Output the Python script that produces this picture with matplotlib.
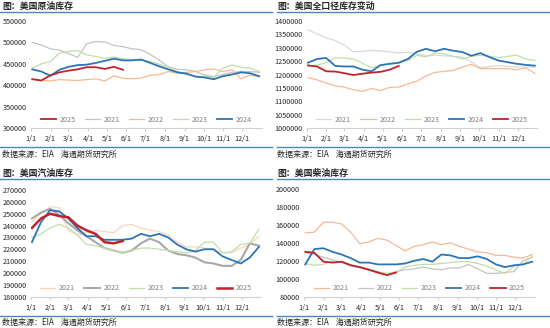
import numpy as np
import matplotlib.pyplot as plt
from matplotlib.lines import Line2D

plt.rcParams['font.family'] = ['Noto Sans CJK SC', 'DejaVu Sans']

# sample days (approx. every two weeks through the year)
days = np.linspace(2, 361, 26)
month_days = [0, 31, 59, 90, 120, 151, 181, 212, 243, 273, 304, 334]
month_labels = ['1/1', '2/1', '3/1', '4/1', '5/1', '6/1', '7/1', '8/1', '9/1', '10/1', '11/1', '12/1']

# 美国原油库存 (千桶)
crude_2021 = [500, 494, 485, 482, 474, 465, 497, 502, 501, 493, 490, 485, 483, 472, 458, 443, 437, 436, 432, 424, 420, 425, 430, 432, 432, 430]
crude_2022 = [414, 411, 410, 413, 412, 411, 413, 415, 410, 422, 416, 415, 417, 423, 425, 432, 428, 430, 432, 436, 438, 432, 436, 415, 424, 420]
crude_2023 = [440, 450, 455, 475, 479, 481, 471, 467, 463, 466, 462, 460, 458, 456, 449, 442, 432, 425, 420, 421, 418, 440, 447, 442, 440, 432]
crude_2024 = [437, 432, 422, 436, 443, 447, 448, 452, 457, 462, 458, 458, 460, 452, 444, 437, 430, 427, 420, 418, 414, 421, 425, 430, 428, 421]
crude_2025 = [414, 411, 423, 430, 434, 437, 442, 442, 438, 443, 436]

# 美国全口径库存 (千桶)
total_2021 = [1368, 1352, 1337, 1327, 1310, 1285, 1286, 1290, 1288, 1285, 1281, 1283, 1278, 1270, 1272, 1270, 1268, 1265, 1248, 1225, 1230, 1233, 1230, 1228, 1228, 1227]
total_2022 = [1188, 1180, 1168, 1158, 1153, 1143, 1137, 1148, 1140, 1152, 1153, 1165, 1175, 1195, 1208, 1212, 1215, 1228, 1238, 1222, 1222, 1222, 1222, 1218, 1225, 1204]
total_2023 = [1232, 1235, 1245, 1262, 1262, 1258, 1242, 1225, 1235, 1240, 1242, 1252, 1272, 1266, 1280, 1278, 1268, 1258, 1268, 1272, 1268, 1263, 1268, 1272, 1258, 1252]
total_2024 = [1244, 1258, 1262, 1232, 1230, 1230, 1218, 1212, 1235, 1240, 1244, 1258, 1285, 1296, 1287, 1296, 1289, 1284, 1270, 1280, 1265, 1252, 1246, 1240, 1236, 1233]
total_2025 = [1234, 1230, 1212, 1211, 1205, 1198, 1203, 1207, 1210, 1218, 1232]

# 美国汽油库存 (千桶)
gas_2021 = [243, 250, 256, 255, 236, 232, 234, 236, 235, 234, 240, 241, 238, 236, 235, 232, 226, 222, 222, 221, 220, 217, 217, 221, 224, 231]
gas_2022 = [246, 251, 254, 249, 242, 236, 231, 226, 221, 219, 217, 219, 225, 229, 226, 219, 216, 215, 213, 209, 208, 206, 206, 211, 225, 223]
gas_2023 = [230, 233, 238, 241, 238, 232, 224, 223, 221, 219, 217, 219, 221, 221, 220, 219, 218, 217, 219, 226, 226, 217, 218, 224, 225, 237]
gas_2024 = [226, 243, 253, 252, 246, 238, 231, 231, 228, 228, 228, 229, 233, 231, 233, 230, 224, 220, 218, 220, 220, 214, 211, 208, 213, 222]
gas_2025 = [238, 246, 250, 248, 247, 240, 236, 233, 226, 225, 227]

# 美国柴油库存 (千桶)
dist_2021 = [151, 152, 163, 163, 161, 152, 139, 141, 145, 143, 137, 131, 136, 138, 141, 138, 140, 136, 133, 130, 129, 126, 126, 124, 123, 127]
dist_2022 = [129, 127, 124, 121, 118, 115, 112, 110, 106, 105, 108, 110, 111, 113, 111, 110, 112, 112, 116, 111, 106, 106, 107, 108, 120, 124]
dist_2023 = [117, 115, 116, 120, 119, 116, 113, 111, 108, 106, 107, 113, 115, 116, 116, 117, 118, 119, 119, 117, 114, 110, 106, 114, 116, 125]
dist_2024 = [116, 133, 134, 130, 127, 123, 118, 118, 116, 116, 116, 117, 120, 122, 119, 127, 126, 123, 123, 125, 122, 116, 113, 115, 116, 119]
dist_2025 = [130, 129, 119, 118, 119, 115, 113, 110, 107, 104, 107]

RED = '#c0232b'
BLUE = '#2e75b6'
GRAY = '#c4c4c4'
PEACH = '#f5b995'
GREEN = '#bfdfaa'
LINE_BLUE = '#4a86c5'

fig = plt.figure(figsize=(5.5, 3.28), dpi=100)


def panel(rect, series, yticks, legend_order):
    ax = fig.add_axes(rect)
    handles = {}
    for label, vals, color, lw in series:
        h, = ax.plot(days[:len(vals)], np.array(vals) * 1000, color=color, lw=lw)
        handles[label] = h
    ax.set_xlim(0, 365)
    ax.set_ylim(yticks[0], yticks[-1])
    ax.set_yticks(yticks)
    ax.set_yticklabels([str(v) for v in yticks])
    ax.set_xticks(month_days)
    ax.set_xticklabels(month_labels)
    for s in ['top', 'left', 'right']:
        ax.spines[s].set_visible(False)
    ax.spines['bottom'].set_color('#d0d0d0')
    ax.spines['bottom'].set_linewidth(0.8)
    ax.tick_params(axis='y', length=0, labelsize=5.2, labelcolor='#262626', pad=3)
    ax.tick_params(axis='x', length=2, color='#d0d0d0', labelsize=5.2, labelcolor='#262626', pad=3)
    ax.patch.set_alpha(0)
    ax.legend([handles[k] for k in legend_order], legend_order, ncol=5,
              loc='lower center', bbox_to_anchor=(0.5, -0.02), frameon=False,
              fontsize=5.2, labelcolor='#808080', handlelength=2.1,
              columnspacing=1.3, handletextpad=0.5)
    return ax


years = ['2021', '2022', '2023', '2024', '2025']

panel([31 / 550, 1 - 128 / 328, 230.7 / 550, 107 / 328],
      [('2021', crude_2021, GRAY, 0.9), ('2022', crude_2022, PEACH, 0.9),
       ('2023', crude_2023, GREEN, 0.9), ('2024', crude_2024, BLUE, 1.3),
       ('2025', crude_2025, RED, 1.3)],
      list(range(300000, 550001, 50000)),
      ['2025', '2021', '2022', '2023', '2024'])

panel([306.7 / 550, 1 - 128 / 328, 230.7 / 550, 107 / 328],
      [('2021', total_2021, '#d9d9d9', 0.9), ('2022', total_2022, PEACH, 0.9),
       ('2023', total_2023, GREEN, 0.9), ('2024', total_2024, BLUE, 1.3),
       ('2025', total_2025, RED, 1.3)],
      list(range(1000000, 1400001, 50000)), years)

panel([30.7 / 550, 1 - 296.7 / 328, 230.7 / 550, 106.7 / 328],
      [('2021', gas_2021, '#f8d5c0', 0.9), ('2022', gas_2022, '#a8a8a8', 1.5),
       ('2023', gas_2023, GREEN, 0.9), ('2024', gas_2024, BLUE, 1.3),
       ('2025', gas_2025, RED, 1.8)],
      list(range(180000, 270001, 10000)), years)

panel([304 / 550, 1 - 296.7 / 328, 230.7 / 550, 107.7 / 328],
      [('2021', dist_2021, PEACH, 0.9), ('2022', dist_2022, GRAY, 0.9),
       ('2023', dist_2023, GREEN, 0.9), ('2024', dist_2024, BLUE, 1.3),
       ('2025', dist_2025, RED, 1.3)],
      list(range(80000, 200001, 20000)), years)

# titles, separator lines, sources
titles = ['图：美国原油库存', '图：美国全口径库存变动', '图：美国汽油库存', '图：美国柴油库存']
title_pos = [(2, 6.7), (277, 6.7), (2, 173), (277, 173)]
top_lines = [(0, 272, 12), (277, 550, 12), (0, 272, 179), (277, 550, 179)]
src_lines = [(0, 272, 147), (277, 550, 147), (0, 272, 316), (277, 550, 316)]
src_pos = [(2, 154.5), (277, 154.5), (2, 322), (277, 322)]

for t, (x, y) in zip(titles, title_pos):
    fig.text(x / 550, 1 - y / 328, t, fontsize=6.4, fontweight='bold', color='#262626', va='center', ha='left')
for x0, x1, y in top_lines + src_lines:
    fig.add_artist(Line2D([x0 / 550, x1 / 550], [1 - y / 328, 1 - y / 328], color=LINE_BLUE, lw=1.0))
for x, y in src_pos:
    fig.text(x / 550, 1 - y / 328, '数据来源：EIA    海通期货研究所', fontsize=5.8, color='#262626', va='center', ha='left')

fig.savefig('out.png', dpi=100)
